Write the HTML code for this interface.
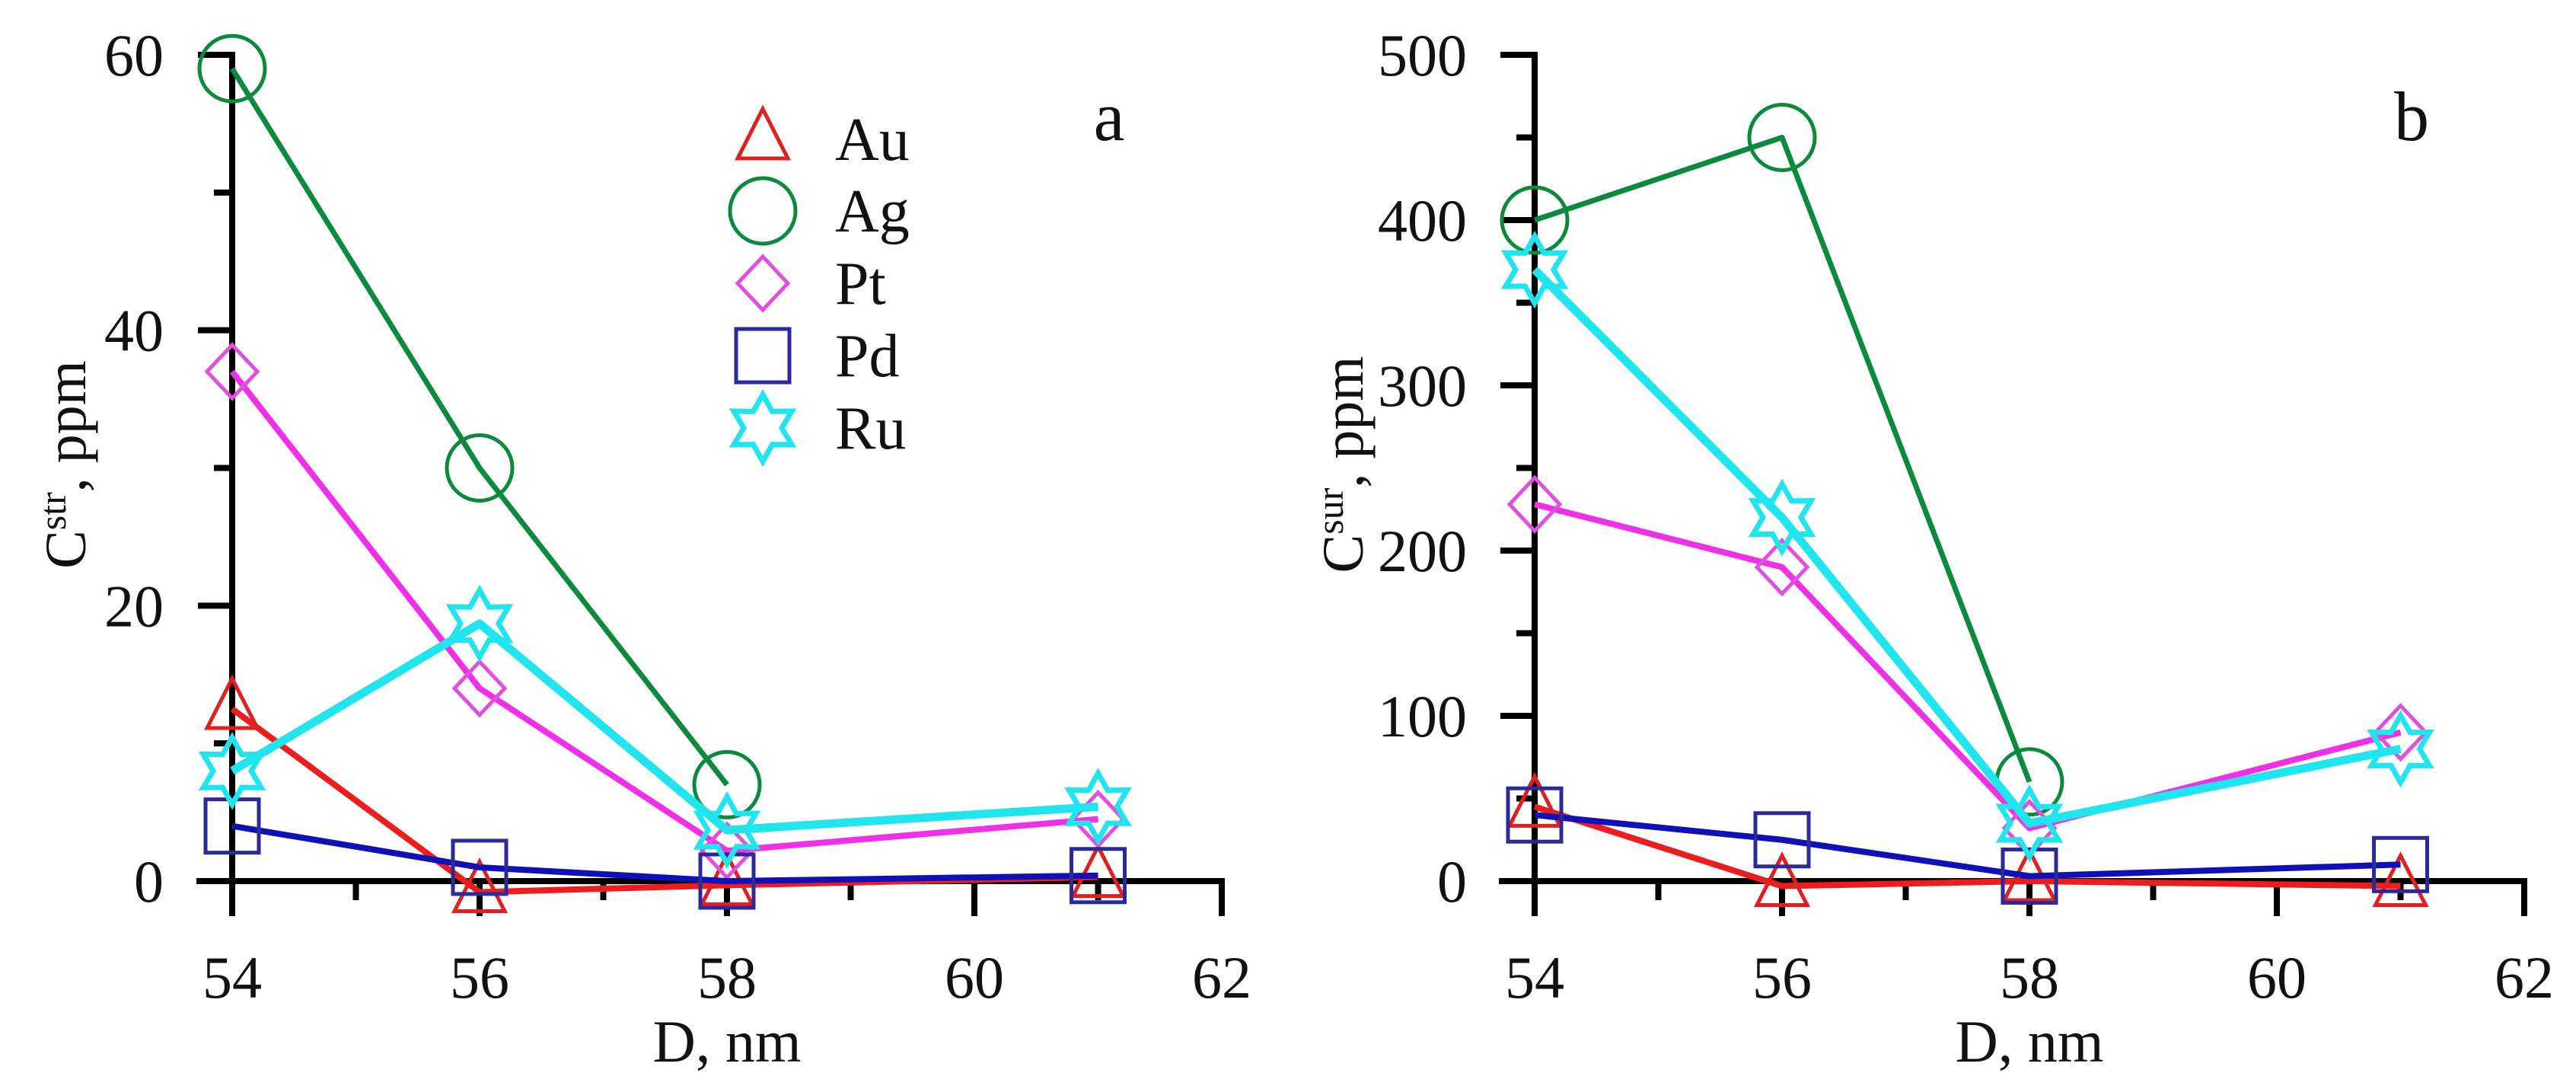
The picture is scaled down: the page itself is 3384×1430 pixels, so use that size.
<!DOCTYPE html>
<html><head><meta charset="utf-8"><style>
html,body{margin:0;padding:0;background:#fff;}
svg{display:block;font-family:"Liberation Serif",serif;}
</style></head><body>
<svg id="chart" width="3384" height="1430" viewBox="0 0 3384 1430" xmlns="http://www.w3.org/2000/svg">
<rect width="3384" height="1430" fill="#fff"/>
</svg>
<script>
const xCats = [54, 56, 58, 61];
const xTicks = [54, 56, 58, 60, 62];
const yTicksA = [0, 20, 40, 60];
const yTicksB = [0, 100, 200, 300, 400, 500];
const seriesNames = ["Au", "Ag", "Pt", "Pd", "Ru"];
const auA = [12.5, -0.8, -0.3, 0.3];
const agA = [59, 30, 7, null];
const ptA = [37, 14, 2.2, 4.5];
const pdA = [4, 1, 0, 0.4];
const ruA = [8, 18.7, 3.7, 5.4];
const auB = [45, -3, 0, -3];
const agB = [400, 450, 60, null];
const ptB = [228, 190, 32, 90];
const pdB = [40, 25, 3, 10];
const ruB = [370, 220, 35, 80];

const NS = "http://www.w3.org/2000/svg";
const svg = document.getElementById("chart");
function mk(tag, attrs, parent) {
  const e = document.createElementNS(NS, tag);
  for (const k in attrs) e.setAttribute(k, attrs[k]);
  (parent || svg).appendChild(e);
  return e;
}
const style = {
  Au:{line:"#ee1c1c", mk:"#e02020", lw:8, shape:"tri"},
  Ag:{line:"#0a8a3c", mk:"#0a8a3c", lw:7, shape:"circ"},
  Pt:{line:"#f030e8", mk:"#e050e0", lw:8, shape:"dia"},
  Pd:{line:"#1010b8", mk:"#2a2a9a", lw:8, shape:"sq"},
  Ru:{line:"#20e4ee", mk:"#20e4ee", lw:11, shape:"star"}
};
function marker(g, shape, cx, cy, color, name) {
  let e;
  const sw = 5;
  if (shape === "circ") e = mk("circle", {cx, cy, r:43, fill:"none", stroke:color, "stroke-width":sw}, g);
  else if (shape === "sq") e = mk("rect", {x:cx-35, y:cy-35, width:70, height:70, fill:"none", stroke:color, "stroke-width":sw}, g);
  else if (shape === "tri") e = mk("polygon", {points:`${cx},${cy-40} ${cx+33},${cy+25} ${cx-33},${cy+25}`, fill:"none", stroke:color, "stroke-width":sw}, g);
  else if (shape === "dia") e = mk("polygon", {points:`${cx},${cy-35} ${cx+33},${cy} ${cx},${cy+35} ${cx-33},${cy}`, fill:"none", stroke:color, "stroke-width":sw}, g);
  else {
    let pts = [];
    for (let i = 0; i < 12; i++) {
      const r = i % 2 === 0 ? 44 : 25;
      const a = -Math.PI/2 + i*Math.PI/6;
      pts.push((cx + r*Math.cos(a)).toFixed(1) + "," + (cy + r*Math.sin(a)).toFixed(1));
    }
    e = mk("polygon", {points:pts.join(" "), fill:"none", stroke:color, "stroke-width":7}, g);
  }
  
  
  return e;
}

function panel(id, x0, ymax, yTicks, minorStep, data, ylabelSup, letter, yLabX, ylabRight) {
  const xs = v => x0 + (v - 54) * 162.5;
  const y0 = 1157, yTop = 72;
  const ys = v => y0 - v * (y0 - yTop) / ymax;
  const g = mk("g", {});
  
  
  const ax = mk("g", {stroke:"#000", "stroke-width":8, fill:"none"}, g);
  
  
  mk("line", {x1:x0-47, y1:y0, x2:xs(62)+4, y2:y0}, ax);
  mk("line", {x1:x0, y1:yTop-4, x2:x0, y2:y0+46}, ax);
  for (let v = 54; v <= 62; v++) {
    const len = v % 2 === 0 ? 46 : 25;
    if (v !== 54) mk("line", {x1:xs(v), y1:y0, x2:xs(v), y2:y0+len}, ax);
  }
  for (let v = 0; v <= ymax; v += minorStep) {
    const major = yTicks.includes(v);
    mk("line", {x1:x0 - (major ? 45 : 24), y1:ys(v), x2:x0, y2:ys(v)}, ax);
  }
  xTicks.forEach(v => {
    const t = mk("text", {x:xs(v), y:1310, "font-size":78, "text-anchor":"middle", fill:"#111"}, g);
    t.textContent = v;
    
    
  });
  yTicks.forEach(v => {
    const t = mk("text", {x:ylabRight, y:ys(v)+27, "font-size":78, "text-anchor":"end", fill:"#111"}, g);
    t.textContent = v;
    
    
  });
  const xt = mk("text", {x:xs(58), y:1394, "font-size":78, "text-anchor":"middle", fill:"#111"}, g);
  xt.textContent = "D, nm";
  
  
  const yt = mk("text", {x:0, y:0, "font-size":76, "text-anchor":"middle", fill:"#111", transform:`translate(${yLabX},610) rotate(-90)`}, g);
  
  
  const c = mk("tspan", {}, yt); c.textContent = "C";
  const s = mk("tspan", {dy:-26, "font-size":50}, yt); s.textContent = ylabelSup;
  const p = mk("tspan", {dy:26}, yt); p.textContent = ", ppm";
  const lt = mk("text", {x:xs(62)-148, y:184, "font-size":92, "text-anchor":"middle", fill:"#111"}, g);
  lt.textContent = letter;
  
  
  seriesNames.forEach((n, si) => {
    const vals = data[si];
    const st = style[n];
    const sg = mk("g", {}, g);
    
    
    const pts = [];
    vals.forEach((v, i) => { if (v !== null) pts.push(xs(xCats[i]) + "," + ys(v)); });
    const pl = mk("polyline", {points:pts.join(" "), fill:"none", stroke:st.line, "stroke-width":st.lw, "stroke-linejoin":"round"}, sg);
    
    
    vals.forEach((v, i) => { if (v !== null) marker(sg, st.shape, xs(xCats[i]), ys(v), st.mk, 'point-' + n.toLowerCase()); });
  });
}

panel("a", 305, 60, yTicksA, 10, [auA, agA, ptA, pdA, ruA], "str", "a", 112, 215);
panel("b", 2016, 500, yTicksB, 50, [auB, agB, ptB, pdB, ruB], "sur", "b", 1790, 1927);

const lg = mk("g", {});


const legendY = [183, 277, 372, 467, 562];
seriesNames.forEach((n, i) => {
  const st = style[n];
  const eg = mk("g", {}, lg);
  
  
  marker(eg, st.shape, 1002, legendY[i], st.mk, 'legend-marker');
  const t = mk("text", {x:1097, y:legendY[i]+27, "font-size":80, fill:"#111"}, eg);
  t.textContent = n;
  
  
});
</script>
</body></html>
